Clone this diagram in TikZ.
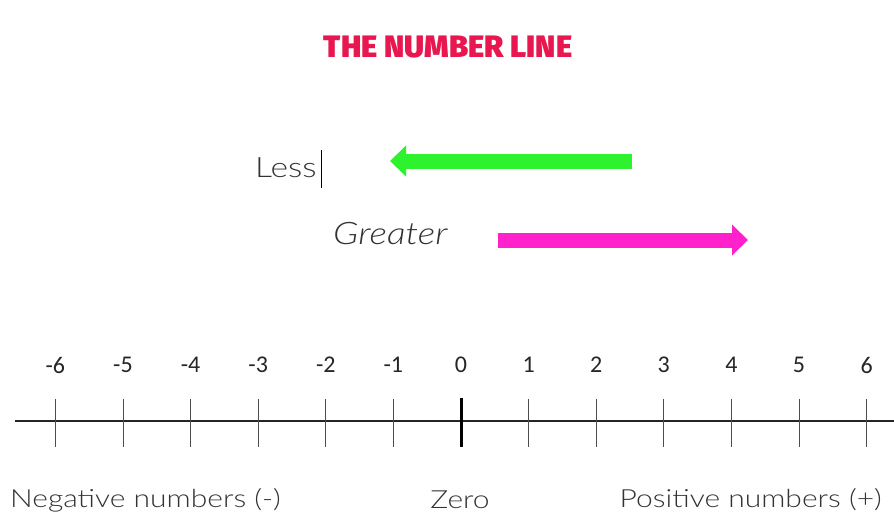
\documentclass[tikz,border=0pt]{standalone}
\usepackage{fontspec}
\usetikzlibrary{arrows.meta}
\setmainfont{Carlito}
\newfontfamily\titlefont{Fira Sans}[UprightFont=* Black, BoldFont=* Black]
\newfontfamily\handfont{Lato}[UprightFont=* Light, ItalicFont=* Light Italic, FakeStretch=1.2]
\definecolor{titlered}{HTML}{E8174F}
\definecolor{arrgreen}{HTML}{2EF22E}
\definecolor{arrpink}{HTML}{FF22CC}
\definecolor{inkgray}{HTML}{333333}
\tikzset{
  numlabel/.style={font=\fontsize{24}{24}\selectfont, text=black!85, inner sep=0pt},
  handtext/.style={font=\handfont\fontsize{25}{25}\selectfont, text=inkgray, inner sep=0pt},
  bigarrow/.style={line width=15pt, -{Triangle[width=30pt,length=16pt]}},
  tickmark/.style={draw=black!70, line width=1pt},
}
\begin{document}
\begin{tikzpicture}[x=1pt,y=-1pt]
\useasboundingbox (0,0) rectangle (894,520);
\fill[white] (0,0) rectangle (894,520);
% title
\node[font=\titlefont\fontsize{31}{31}\selectfont, text=titlered, inner sep=0pt] (title) at (448,47) {THE NUMBER LINE};
% less / greater
\node[handtext, anchor=west, font=\handfont\fontsize{28}{28}\selectfont] (less) at (255,168) {Less};
\coordinate (cursorTop) at (321,150);
\coordinate (cursorBot) at (321,188);
\draw[black, line width=1pt] (cursorTop) -- (cursorBot);
\coordinate (gstart) at (632,161);
\coordinate (gend) at (390,161);
\draw[bigarrow, arrgreen] (gstart) -- (gend);
\node[handtext, anchor=west, font=\handfont\itshape\fontsize{31}{31}\selectfont] (greater) at (333,234) {Greater};
\coordinate (pstart) at (498,240);
\coordinate (pend) at (748,240);
\draw[bigarrow, arrpink] (pstart) -- (pend);
% number line
\coordinate (lineL) at (15,421);
\coordinate (lineR) at (894,421);
\draw[black!85, line width=1.6pt] (lineL) -- (lineR);
\foreach \i/\lab in {-6/-6,-5/-5,-4/-4,-3/-3,-2/-2,-1/-1,1/1,2/2,3/3,4/4,5/5,6/6}{
  \coordinate (t\i top) at (461+67.6*\i,399);
  \coordinate (t\i bot) at (461+67.6*\i,447);
  \draw[tickmark] (t\i top) -- (t\i bot);
  \node[numlabel] (n\i) at (461+67.6*\i,365) {\lab};
}
\coordinate (t0top) at (461,398);
\coordinate (t0bot) at (461,447);
\draw[black, line width=3pt] (t0top) -- (t0bot);
\node[numlabel] (n0) at (461,365) {0};
% bottom labels
\node[handtext, anchor=west] (neg) at (10,500) {Negative numbers (-)};
\node[handtext] (zero) at (460,500) {Zero};
\node[handtext, anchor=east] (pos) at (882,500) {Positive numbers (+)};
\end{tikzpicture}
\end{document}
